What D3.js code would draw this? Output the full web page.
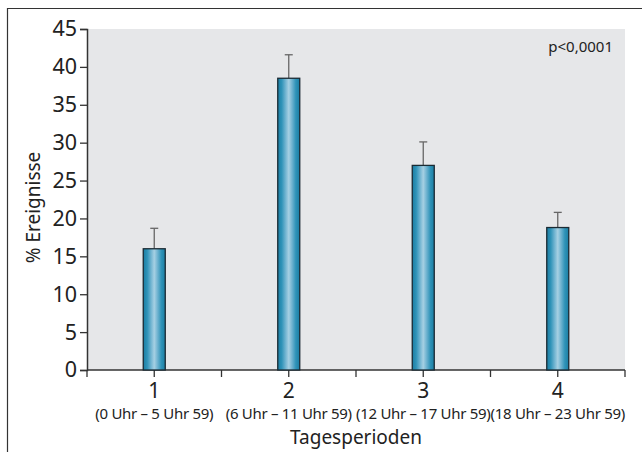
<!DOCTYPE html>
<html>
<head>
<meta charset="utf-8">
<script src="https://cdn.jsdelivr.net/npm/d3@7"></script>
<style>
  body { margin: 0; background: #fff; }
  text { font-family: "Noto Sans", "Open Sans", sans-serif; fill: #222; }
</style>
</head>
<body>
<script>
// data
let categories = ["1", "2", "3", "4"];
let periods = ["(0 Uhr – 5 Uhr 59)", "(6 Uhr – 11 Uhr 59)", "(12 Uhr – 17 Uhr 59)", "(18 Uhr – 23 Uhr 59)"];
let values = [16, 38.5, 27, 18.8];
let errTop = [18.7, 41.6, 30.1, 20.8];
let yTicks = [0, 5, 10, 15, 20, 25, 30, 35, 40, 45];

let margin = {top: 29, right: 17, bottom: 82, left: 87}
    , width = 642 - margin.left - margin.right
    , height = 452 - margin.top - margin.bottom;

let svg = d3.select("body").append("svg")
    .attr("width", 642)
    .attr("height", 452);

// outer frame (top + left edges visible)
svg.append("path")
    .attr("d", "M7.5,452V8.5H642")
    .attr("fill", "none")
    .attr("stroke", "#333")
    .attr("stroke-width", 1.2);

let defs = svg.append("defs");
let grad = defs.append("linearGradient")
    .attr("id", "barGrad")
    .attr("x1", "0%").attr("x2", "100%").attr("y1", "0%").attr("y2", "0%");
[["0%", "#1b7ea3"], ["18%", "#2f93b8"], ["35%", "#6fb3d0"], ["50%", "#a6d0e3"],
 ["65%", "#6fb3d0"], ["82%", "#2f93b8"], ["100%", "#1b7ea3"]].forEach(s => {
    grad.append("stop").attr("offset", s[0]).attr("stop-color", s[1]);
});

let g = svg.append("g")
    .attr("transform", "translate(" + margin.left + "," + margin.top + ")");

let xScale = d3.scaleBand()
    .domain(categories)
    .range([0, width]);

let yScale = d3.scaleLinear()
    .domain([0, 45])
    .range([height, 0]);

g.append("rect")
    .attr("width", width)
    .attr("height", height)
    .attr("fill", "#e6e7e9");

// y axis
let yAxis = g.append("g")
    .call(d3.axisLeft(yScale).tickValues(yTicks).tickSize(7).tickPadding(3));
yAxis.select(".domain").attr("stroke", "#333").attr("stroke-width", 1.5);
yAxis.selectAll(".tick line").attr("stroke", "#333").attr("stroke-width", 1.3);
yAxis.selectAll("text")
    .style("font-size", "21.5px")
    .attr("fill", "#222")
    .style("font-family", "'Noto Sans', sans-serif");

// x axis: ticks at band edges and band centres
let xAxis = g.append("g")
    .attr("transform", "translate(0," + height + ")");
xAxis.append("line")
    .attr("x1", 0).attr("x2", width)
    .attr("stroke", "#333").attr("stroke-width", 1.5);
let tickPos = [0].concat(categories.map(c => xScale(c) + xScale.bandwidth() / 2),
    categories.map(c => xScale(c) + xScale.bandwidth()));
xAxis.selectAll(".xt")
    .data(tickPos)
    .join("line")
    .attr("x1", d => d).attr("x2", d => d)
    .attr("y1", 0).attr("y2", 7)
    .attr("stroke", "#333").attr("stroke-width", 1.3);

xAxis.selectAll(".num")
    .data(categories)
    .join("text")
    .attr("x", d => xScale(d) + xScale.bandwidth() / 2)
    .attr("y", 28)
    .attr("text-anchor", "middle")
    .style("font-size", "21px")
    .text(d => d);

xAxis.selectAll(".per")
    .data(periods)
    .join("text")
    .attr("x", (d, i) => xScale(categories[i]) + xScale.bandwidth() / 2)
    .attr("y", 49)
    .attr("text-anchor", "middle")
    .style("font-size", "15px")
    .style("letter-spacing", "-0.3px")
    .text(d => d);

// bars
let bw = 22;
g.selectAll(".err")
    .data(values)
    .join("line")
    .attr("x1", (d, i) => xScale(categories[i]) + xScale.bandwidth() / 2)
    .attr("x2", (d, i) => xScale(categories[i]) + xScale.bandwidth() / 2)
    .attr("y1", d => yScale(d))
    .attr("y2", (d, i) => yScale(errTop[i]))
    .attr("stroke", "#666").attr("stroke-width", 1.3);
g.selectAll(".cap")
    .data(errTop)
    .join("line")
    .attr("x1", (d, i) => xScale(categories[i]) + xScale.bandwidth() / 2 - 4)
    .attr("x2", (d, i) => xScale(categories[i]) + xScale.bandwidth() / 2 + 4)
    .attr("y1", d => yScale(d))
    .attr("y2", d => yScale(d))
    .attr("stroke", "#666").attr("stroke-width", 1.3);

g.selectAll(".bar")
    .data(values)
    .join("rect")
    .attr("x", (d, i) => xScale(categories[i]) + xScale.bandwidth() / 2 - bw / 2)
    .attr("y", d => yScale(d))
    .attr("width", bw)
    .attr("height", d => yScale(0) - yScale(d))
    .attr("fill", "url(#barGrad)")
    .attr("stroke", "#1a2a33")
    .attr("stroke-width", 1.3);

// labels
g.append("text")
    .attr("x", width - 12)
    .attr("y", 23)
    .attr("text-anchor", "end")
    .style("font-size", "15px")
    .text("p<0,0001");

svg.append("text")
    .attr("transform", "translate(40," + (margin.top + height / 2 + 8) + ") rotate(-90)")
    .attr("text-anchor", "middle")
    .style("font-size", "19px")
    .text("% Ereignisse");

svg.append("text")
    .attr("x", margin.left + width / 2)
    .attr("y", 444)
    .attr("text-anchor", "middle")
    .style("font-size", "19px")
    .text("Tagesperioden");
</script>
</body>
</html>
